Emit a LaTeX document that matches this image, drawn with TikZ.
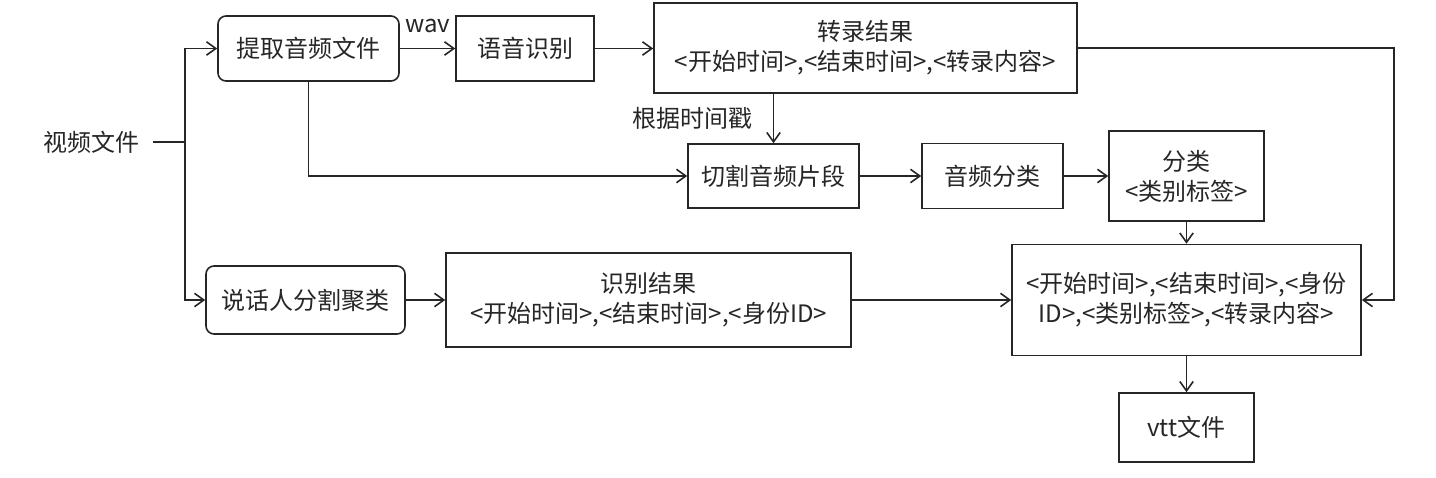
\documentclass[tikz,border=0pt]{standalone}
\usepackage{fontspec}
\setmainfont{Noto Sans CJK SC}
\usetikzlibrary{arrows.meta,calc}
\definecolor{ink}{HTML}{262626}
\tikzset{
  box/.style={draw=ink, line width=1.2pt, text=ink, align=center, inner sep=2pt},
  rbox/.style={box, rounded corners=6pt},
  sz/.style 2 args={minimum width=#1*0.75pt, minimum height=#2*0.75pt},
  wire/.style={draw=ink, line width=1.2pt},
  arr/.style={wire, -{Straight Barb[length=7pt,width=10pt]}},
  lbl/.style={text=ink}
}
\begin{document}
\begin{tikzpicture}[x=0.75pt,y=-0.75pt,
  font=\fontsize{18pt}{22.5pt}\selectfont]
\useasboundingbox (0,0) rectangle (1436,478);

\node[lbl, inner xsep=10pt] (vid) at (91,142) {视频文件};
\node[rbox, sz={181}{65}] (ext) at (308.5,48.5) {提取音频文件};
\node[box, sz={138}{65}] (asr) at (525,48.5) {语音识别};
\node[box, sz={423}{90}] (trans) at (865.5,48) {转录结果\\<开始时间>,<结束时间>,<转录内容>};
\node[box, sz={171}{64}] (cut) at (773.5,176) {切割音频片段};
\node[box, sz={141}{65}] (cls) at (992.5,176) {音频分类};
\node[box, sz={155}{90}] (cat) at (1186.5,176) {分类\\<类别标签>};
\node[rbox, sz={199}{68}] (spk) at (305.5,300) {说话人分割聚类};
\node[box, sz={405}{94}] (res) at (648.5,300) {识别结果\\<开始时间>,<结束时间>,<身份ID>};
\node[box, sz={349}{111}] (merge) at (1186.5,300) {<开始时间>,<结束时间>,<身份\\ID>,<类别标签>,<转录内容>};
\node[box, sz={135}{69}] (vtt) at (1186.5,427.5) {vtt文件};

\coordinate (jv) at (185,142);
\coordinate (rc) at ($(merge.east)+(32,0)$);

\draw[wire] (vid.east) -- (jv);
\draw[arr] (jv) |- (ext.west);
\draw[arr] (jv) |- (spk.west);
\draw[arr] (ext.east) -- node[lbl, midway, anchor=base, yshift=12pt]{wav} (asr.west);
\draw[arr] (asr.east) -- (asr.east -| trans.west);
\draw[arr] (trans.east) -| (rc) -- (merge.east);
\draw[arr] (ext.south) |- (cut.west);
\draw[arr] (trans.south -| cut.north) -- node[lbl, midway, left=12pt]{根据时间戳} (cut.north);
\draw[arr] (cut) -- (cls);
\draw[arr] (cls) -- (cat);
\draw[arr] (cat) -- (merge);
\draw[arr] (merge) -- (vtt);
\draw[arr] (spk) -- (res);
\draw[arr] (res) -- (merge);
\end{tikzpicture}
\end{document}
